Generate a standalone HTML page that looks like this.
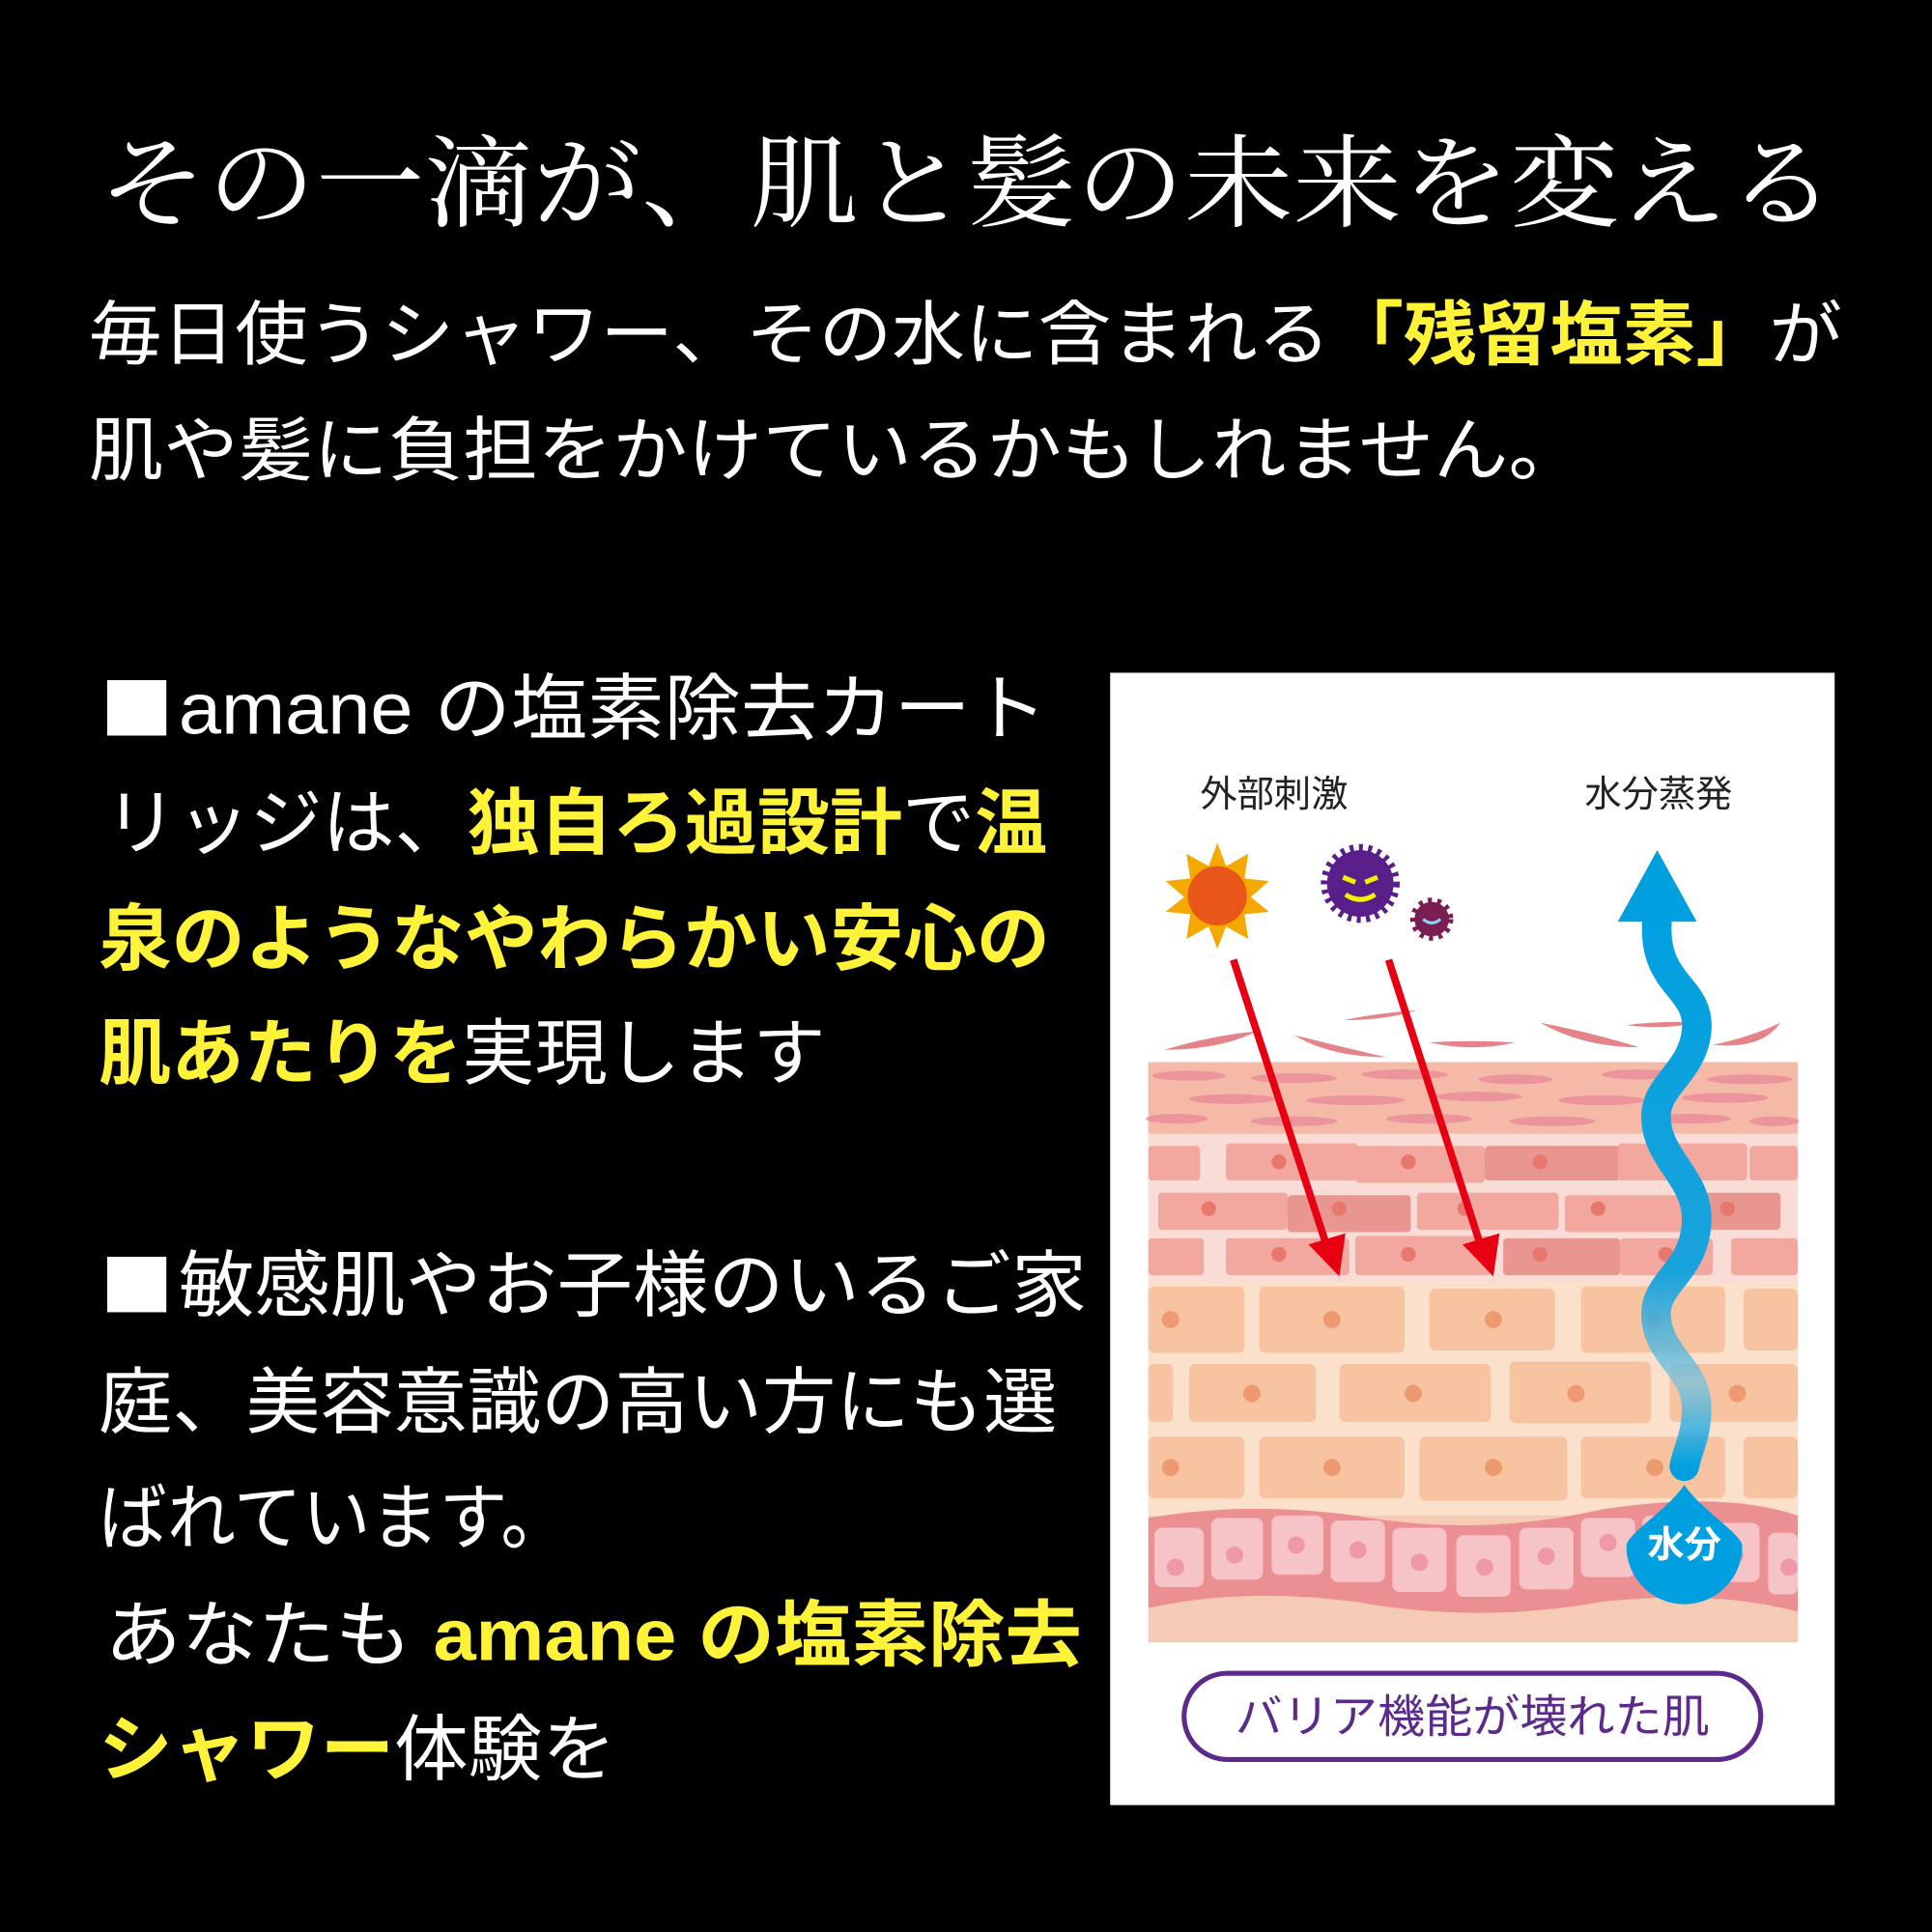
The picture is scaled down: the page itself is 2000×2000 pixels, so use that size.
<!DOCTYPE html>
<html><head><meta charset="utf-8"><style>
html,body{margin:0;padding:0;background:#000;width:2000px;height:2000px;overflow:hidden}
svg{display:block}
.s{font-family:"Liberation Sans","Noto Sans CJK JP",sans-serif}
</style></head><body>
<svg width="2000" height="2000" viewBox="0 0 1568 1568" xmlns="http://www.w3.org/2000/svg">
<rect width="1568" height="1568" fill="#000"/>
<text x="80" y="150" dominant-baseline="central" textLength="1410" lengthAdjust="spacingAndGlyphs" font-family="'Liberation Serif','Noto Serif CJK SC',serif" font-size="82" fill="#fff">その一滴が、肌と髪の未来を変える</text>
<g class="s" font-size="57" fill="#fff" dominant-baseline="central">
<text x="72" y="272" textLength="1423" lengthAdjust="spacingAndGlyphs">毎日使うシャワー、その水に含まれる<tspan fill="#fff33a" font-weight="bold">「残留塩素」</tspan>が</text>
<text x="72" y="366" textLength="1213" lengthAdjust="spacingAndGlyphs">肌や髪に負担をかけているかもしれません。</text>
</g>
<g class="s" font-size="59" fill="#fff" dominant-baseline="central">
<rect x="87" y="552" width="48" height="45" fill="#fff"/>
<text x="145" y="575" textLength="705" lengthAdjust="spacingAndGlyphs">amane の塩素除去カート</text>
<text x="85" y="668" textLength="765" lengthAdjust="spacingAndGlyphs">リッジは、<tspan fill="#fff33a" font-weight="bold">独自ろ過設計</tspan>で<tspan fill="#fff33a" font-weight="bold">温</tspan></text>
<text x="80" y="762" textLength="772" lengthAdjust="spacingAndGlyphs" fill="#fff33a" font-weight="bold">泉のようなやわらかい安心の</text>
<text x="80" y="855" textLength="590" lengthAdjust="spacingAndGlyphs"><tspan fill="#fff33a" font-weight="bold">肌あたりを</tspan>実現します</text>
<rect x="87" y="1020" width="48" height="45" fill="#fff"/>
<text x="145" y="1043" textLength="737" lengthAdjust="spacingAndGlyphs">敏感肌やお子様のいるご家</text>
<text x="80" y="1138" textLength="778" lengthAdjust="spacingAndGlyphs">庭、美容意識の高い方にも選</text>
<text x="80" y="1232" textLength="382" lengthAdjust="spacingAndGlyphs">ばれています。</text>
<text x="85" y="1327" textLength="793" lengthAdjust="spacingAndGlyphs">あなたも <tspan fill="#fff33a" font-weight="bold">amane の塩素除去</tspan></text>
<text x="80" y="1420" textLength="420" lengthAdjust="spacingAndGlyphs"><tspan fill="#fff33a" font-weight="bold">シャワー</tspan>体験を</text>
</g>
<!-- panel -->
<rect x="901" y="546" width="588" height="919" fill="#fff"/>
<g class="s" font-size="30" fill="#222" text-anchor="middle" dominant-baseline="central">
<text x="1034" y="645">外部刺激</text><text x="1346" y="645">水分蒸発</text>
</g>
<!-- sun -->
<polygon fill="#f5a800" points="988,684 995,703 1013,693 1010,713 1030,715 1015,728 1030,740 1010,742 1013,762 995,752 988,770 981,752 963,762 966,742 946,740 961,728 946,715 966,713 963,693 981,703"/>
<circle cx="988" cy="727" r="24" fill="#e8561a"/>
<!-- viruses -->
<circle cx="1104" cy="717" r="27" fill="#5a1e8a" stroke="#5a1e8a" stroke-width="10" stroke-dasharray="3 4"/>
<path d="M1090 712 l10 4 M1118 712 l-10 4 M1092 726 q12 8 24 0" stroke="#f4f000" stroke-width="4" fill="none"/>
<circle cx="1162" cy="746" r="14" fill="#7a1d55" stroke="#7a1d55" stroke-width="7" stroke-dasharray="3 4"/>
<path d="M1155 746 q7 6 14 0" stroke="#8fd0f0" stroke-width="2.5" fill="none"/>
<!-- skin -->
<rect x="932" y="862" width="527" height="471" fill="#f6cbb6"/>
<rect x="932" y="862" width="527" height="58" fill="#f5b9a8"/>
<g fill="#e5838a">
<path d="M945 852 q40 -12 75 -15 q-30 15 -75 15z"/><path d="M1050 840 q40 10 75 18 q-45 0 -75 -18z"/>
<path d="M1090 828 q30 -6 60 -8 q-25 8 -60 8z"/><path d="M1160 846 q35 -2 70 0 q-35 8 -70 0z"/>
<path d="M1250 830 q50 10 80 20 q-45 0 -80 -20z"/><path d="M1320 832 q30 -4 60 -2 q-30 6 -60 2z"/>
<path d="M1390 848 q30 -6 55 -18 q-15 22 -55 18z"/>
</g>
<g fill="#ec919a" opacity=".9">
<ellipse cx="965" cy="873" rx="30" ry="4"/><ellipse cx="1050" cy="875" rx="35" ry="4"/><ellipse cx="1140" cy="872" rx="35" ry="4"/><ellipse cx="1230" cy="876" rx="30" ry="4"/><ellipse cx="1330" cy="872" rx="30" ry="4"/><ellipse cx="1420" cy="876" rx="35" ry="4"/>
<ellipse cx="1000" cy="892" rx="35" ry="4"/><ellipse cx="1100" cy="893" rx="40" ry="4"/><ellipse cx="1200" cy="890" rx="35" ry="4"/><ellipse cx="1300" cy="893" rx="35" ry="4"/><ellipse cx="1400" cy="891" rx="35" ry="4"/>
<ellipse cx="955" cy="908" rx="25" ry="4"/><ellipse cx="1050" cy="910" rx="35" ry="4"/><ellipse cx="1160" cy="908" rx="35" ry="4"/><ellipse cx="1260" cy="910" rx="35" ry="4"/><ellipse cx="1370" cy="908" rx="35" ry="4"/><ellipse cx="1440" cy="910" rx="20" ry="4"/>
</g>
<rect x="932" y="920" width="527" height="120" fill="#f9dcd5"/>
<g fill="#f2a89e">
<rect x="932" y="930" width="42" height="28" rx="3"/><rect x="995" y="928" width="107" height="30" rx="3"/><rect x="1100" y="930" width="105" height="30" rx="3"/><rect x="1205" y="930" width="110" height="28" rx="3" fill="#ea9690"/><rect x="1313" y="928" width="105" height="30" rx="3"/><rect x="1420" y="930" width="39" height="28" rx="3"/>
<rect x="940" y="968" width="105" height="30" rx="3"/><rect x="1045" y="970" width="100" height="30" rx="3" fill="#ea9690"/><rect x="1150" y="968" width="115" height="30" rx="3"/><rect x="1270" y="970" width="110" height="30" rx="3"/><rect x="1370" y="968" width="75" height="30" rx="3" fill="#ea9690"/>
<rect x="932" y="1005" width="45" height="30" rx="3"/><rect x="995" y="1005" width="100" height="30" rx="3"/><rect x="1100" y="1003" width="110" height="32" rx="3"/><rect x="1220" y="1005" width="95" height="30" rx="3" fill="#ea9690"/><rect x="1315" y="1005" width="75" height="30" rx="3"/><rect x="1405" y="1005" width="54" height="30" rx="3"/>
</g>
<g fill="#e8786e">
<circle cx="1038" cy="943" r="6"/><circle cx="1143" cy="943" r="6"/><circle cx="1250" cy="943" r="6"/><circle cx="1352" cy="943" r="6"/>
<circle cx="981" cy="981" r="6"/><circle cx="1087" cy="981" r="6"/><circle cx="1189" cy="981" r="6"/><circle cx="1297" cy="981" r="6"/><circle cx="1402" cy="981" r="6"/>
<circle cx="1038" cy="1018" r="6"/><circle cx="1143" cy="1018" r="6"/><circle cx="1250" cy="1018" r="6"/><circle cx="1352" cy="1018" r="6"/>
</g>
<rect x="932" y="1040" width="527" height="190" fill="#fbe0cc"/>
<g fill="#f7c3a0">
<rect x="932" y="1044" width="78" height="54" rx="5"/><rect x="1022" y="1044" width="118" height="54" rx="5"/><rect x="1160" y="1046" width="102" height="50" rx="5"/><rect x="1283" y="1044" width="117" height="54" rx="5"/><rect x="1415" y="1046" width="44" height="50" rx="5"/>
<rect x="932" y="1107" width="20" height="47" rx="4"/><rect x="965" y="1107" width="103" height="47" rx="5"/><rect x="1087" y="1107" width="123" height="47" rx="5"/><rect x="1225" y="1105" width="115" height="50" rx="5"/><rect x="1355" y="1107" width="104" height="47" rx="5"/>
<rect x="932" y="1166" width="78" height="50" rx="5"/><rect x="1022" y="1166" width="118" height="50" rx="5"/><rect x="1152" y="1166" width="120" height="52" rx="5"/><rect x="1283" y="1166" width="117" height="50" rx="5"/><rect x="1415" y="1166" width="44" height="50" rx="5"/>
</g>
<g fill="#ee9a70">
<circle cx="950" cy="1071" r="7"/><circle cx="1081" cy="1071" r="7"/><circle cx="1212" cy="1071" r="7"/><circle cx="1343" cy="1071" r="7"/>
<circle cx="1016" cy="1131" r="7"/><circle cx="1147" cy="1131" r="7"/><circle cx="1279" cy="1131" r="7"/><circle cx="1410" cy="1131" r="7"/>
<circle cx="950" cy="1191" r="7"/><circle cx="1081" cy="1191" r="7"/><circle cx="1212" cy="1191" r="7"/><circle cx="1343" cy="1191" r="7"/>
</g>
<path d="M932 1232 Q1010 1218 1100 1230 Q1200 1248 1300 1225 Q1400 1210 1459 1230 L1459 1308 Q1390 1290 1300 1300 Q1200 1318 1100 1300 Q1010 1288 932 1305 Z" fill="#ec8f92"/>
<g fill="#f6c4c6">
<rect x="937" y="1240" width="40" height="48" rx="6"/><rect x="983" y="1232" width="42" height="50" rx="6"/><rect x="1032" y="1230" width="42" height="48" rx="6"/><rect x="1080" y="1234" width="44" height="50" rx="6"/><rect x="1130" y="1240" width="44" height="52" rx="6"/><rect x="1182" y="1246" width="44" height="50" rx="6"/><rect x="1233" y="1240" width="44" height="50" rx="6"/><rect x="1283" y="1232" width="44" height="48" rx="6"/><rect x="1333" y="1230" width="44" height="48" rx="6"/><rect x="1388" y="1236" width="40" height="48" rx="6"/><rect x="1435" y="1244" width="24" height="50" rx="6"/>
</g>
<g fill="#ef98a8">
<circle cx="954" cy="1272" r="7"/><circle cx="1002" cy="1262" r="7"/><circle cx="1052" cy="1254" r="7"/><circle cx="1102" cy="1258" r="7"/><circle cx="1152" cy="1268" r="7"/><circle cx="1205" cy="1272" r="7"/><circle cx="1255" cy="1263" r="7"/><circle cx="1305" cy="1252" r="7"/><circle cx="1355" cy="1254" r="7"/><circle cx="1408" cy="1262" r="7"/><circle cx="1452" cy="1272" r="7"/>
</g>
<!-- red arrows -->
<g stroke="#e60012" stroke-width="6" fill="#e60012">
<line x1="1001" y1="779" x2="1078" y2="1015"/><line x1="1127" y1="779" x2="1203" y2="1015"/>
</g>
<polygon points="1087,1036 1062,1010 1092,1001" fill="#e60012"/>
<polygon points="1212,1036 1187,1010 1217,1001" fill="#e60012"/>
<!-- water -->
<defs><linearGradient id="g" x1="0" y1="0" x2="0" y2="1"><stop offset="0" stop-color="#00a0e0"/><stop offset="0.65" stop-color="#1aa3dc"/><stop offset="0.85" stop-color="#6fc2e2" stop-opacity=".7"/><stop offset="1" stop-color="#00a0e0"/></linearGradient></defs>
<path d="M1345 745 C1340 800 1380 800 1377 836 C1374 870 1344 880 1344 906 C1344 940 1377 955 1377 989 C1377 1030 1344 1040 1344 1066 C1344 1100 1377 1110 1377 1143 C1377 1165 1370 1175 1367 1190" stroke="url(#g)" stroke-width="24" fill="none" stroke-linecap="round"/>
<polygon points="1345,690 1377,748 1313,748" fill="#00a0e0"/>
<path d="M1367 1205 C1380 1225 1414 1245 1414 1255 A47 47 0 1 1 1320 1255 C1320 1245 1354 1225 1367 1205Z" fill="#00a0e0"/>
<text x="1367" y="1254" class="s" font-size="30" font-weight="bold" fill="#fff" text-anchor="middle" dominant-baseline="central">水分</text>
<!-- label pill -->
<rect x="961" y="1358" width="468" height="70" rx="35" fill="#fff" stroke="#5c2a8a" stroke-width="4"/>
<text x="1195" y="1394" class="s" font-size="37" fill="#5c2a8a" text-anchor="middle" dominant-baseline="central" textLength="385" lengthAdjust="spacingAndGlyphs">バリア機能が壊れた肌</text>
</svg>
</body></html>
